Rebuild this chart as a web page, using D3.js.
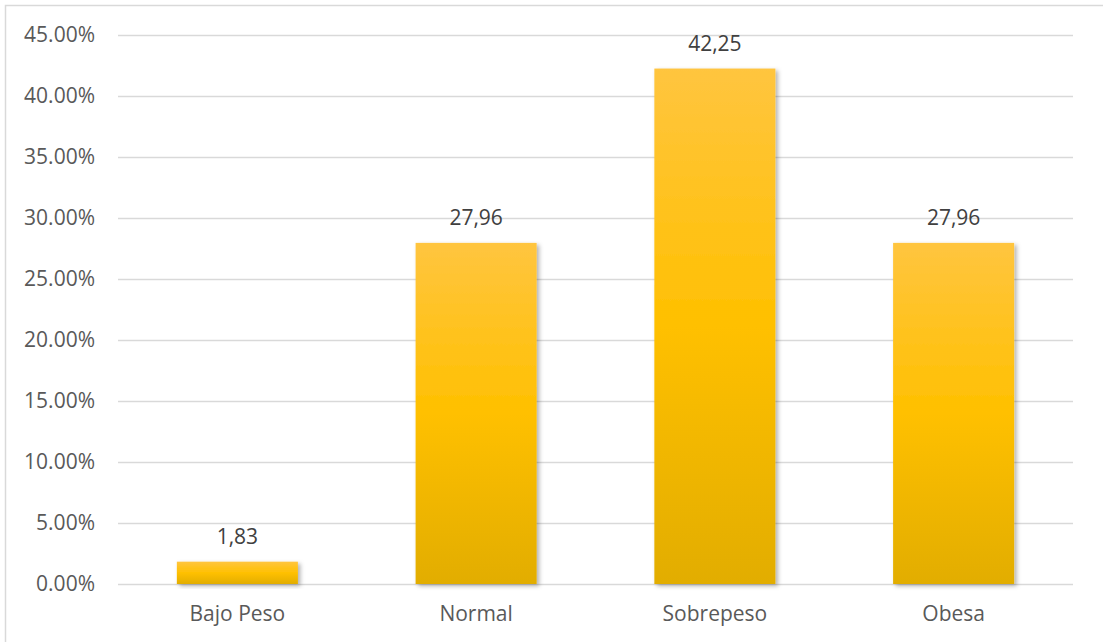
<!DOCTYPE html>
<html>
<head>
<meta charset="utf-8">
<script src="https://cdn.jsdelivr.net/npm/d3@7"></script>
<style>
  html, body { margin: 0; padding: 0; background: #fff; }
  svg { display: block; }
  text { font-family: "Open Sans", "Noto Sans", sans-serif; }
</style>
</head>
<body>
<svg id="chart" width="1103" height="642"></svg>
<script>
// Nutritional status categories and their percentages
const categories = ["Bajo Peso", "Normal", "Sobrepeso", "Obesa"];
const values = [1.83, 27.96, 42.25, 27.96];
const valueLabels = ["1,83", "27,96", "42,25", "27,96"];
const yTicks = [0, 5, 10, 15, 20, 25, 30, 35, 40, 45];

const svg = d3.select("#chart");
const W = 1103, H = 642;
const margin = { left: 118, right: 30, top: 35, bottom: 58 };

// Chart frame
svg.append("rect")
  .attr("x", 5.5).attr("y", 5.5)
  .attr("width", W - 2).attr("height", H)
  .attr("fill", "#fff").attr("stroke", "#d9d9d9").attr("stroke-width", 1.5);

const x = d3.scaleBand()
  .domain(categories)
  .range([margin.left, W - margin.right])
  .paddingInner(0.493).paddingOuter(0.2465);

const y = d3.scaleLinear()
  .domain([0, 45])
  .range([H - margin.bottom, margin.top]);

// Bar fill: lighter top, saturated middle, deeper bottom
const defs = svg.append("defs");
const grad = defs.append("linearGradient")
  .attr("id", "barGrad").attr("x1", 0).attr("y1", 0).attr("x2", 0).attr("y2", 1);
grad.append("stop").attr("offset", "0%").attr("stop-color", "#ffc53f");
grad.append("stop").attr("offset", "50%").attr("stop-color", "#ffc000");
grad.append("stop").attr("offset", "100%").attr("stop-color", "#e2ad00");

const shadow = defs.append("filter").attr("id", "barShadow")
  .attr("x", "-20%").attr("y", "-20%").attr("width", "140%").attr("height", "140%");
shadow.append("feDropShadow")
  .attr("dx", 2.5).attr("dy", 2).attr("stdDeviation", 2.2)
  .attr("flood-color", "#000").attr("flood-opacity", 0.3);

// Horizontal gridlines and y tick labels
const yAxis = d3.axisLeft(y)
  .tickValues(yTicks)
  .tickSize(-(W - margin.left - margin.right))
  .tickPadding(23)
  .tickFormat(d => d3.format(".2f")(d) + "%");

const gy = svg.append("g")
  .attr("transform", `translate(${margin.left},0)`)
  .call(yAxis);
gy.select(".domain").remove();
gy.selectAll(".tick line").attr("stroke", "#d9d9d9").attr("stroke-width", 1.5);
gy.selectAll(".tick text")
  .attr("fill", "#595959").style("font-size", "21px").attr("dy", "0.33em");

// Category axis labels
const xAxis = d3.axisBottom(x).tickSize(0).tickPadding(22);
const gx = svg.append("g")
  .attr("transform", `translate(0,${H - margin.bottom})`)
  .call(xAxis);
gx.select(".domain").remove();
gx.selectAll(".tick text")
  .attr("fill", "#595959").style("font-size", "21px");

const data = categories.map((c, i) => ({ c, v: values[i], label: valueLabels[i] }));

// Bars
svg.append("g").selectAll("rect")
  .data(data)
  .join("rect")
  .attr("x", d => x(d.c))
  .attr("y", d => y(d.v))
  .attr("width", x.bandwidth())
  .attr("height", d => y(0) - y(d.v))
  .attr("fill", "url(#barGrad)")
  .attr("filter", "url(#barShadow)");

// Value labels above the bars
svg.append("g").selectAll("text")
  .data(data)
  .join("text")
  .attr("x", d => x(d.c) + x.bandwidth() / 2)
  .attr("y", d => y(d.v) - 18)
  .attr("text-anchor", "middle")
  .attr("fill", "#404040")
  .style("font-size", "21px")
  .text(d => d.label);
</script>
</body>
</html>
